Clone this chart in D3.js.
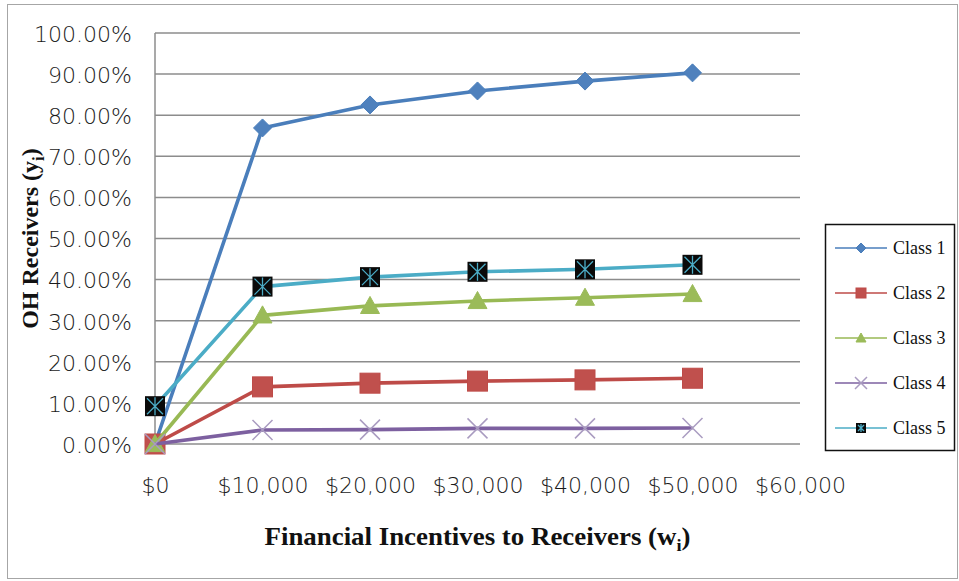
<!DOCTYPE html>
<html>
<head>
<meta charset="utf-8">
<script src="https://cdn.jsdelivr.net/npm/d3@7"></script>
<style>
  html, body { margin: 0; padding: 0; background: #fff; }
  svg { display: block; }
</style>
</head>
<body>
<svg id="chart" width="959" height="581"></svg>
<script>
// Incentive levels (x) and share of OH receivers per class (y, in %)
const incentives = [0, 10000, 20000, 30000, 40000, 50000];
const class1 = [0, 76.9, 82.5, 85.9, 88.3, 90.3];
const class2 = [0, 13.9, 14.8, 15.3, 15.6, 16.0];
const class3 = [0, 31.3, 33.6, 34.8, 35.6, 36.5];
const class4 = [0, 3.4, 3.5, 3.8, 3.8, 3.9];
const class5 = [9.2, 38.3, 40.6, 41.9, 42.5, 43.6];
const seriesNames = ["Class 1", "Class 2", "Class 3", "Class 4", "Class 5"];
const xTicks = [0, 10000, 20000, 30000, 40000, 50000, 60000];
const yTicks = [0, 10, 20, 30, 40, 50, 60, 70, 80, 90, 100];

const seriesValues = [class1, class2, class3, class4, class5];
const styles = [
  { line: "#4A7EBB", fill: "#4F81BD", shape: "diamond" },
  { line: "#BE4B48", fill: "#C0504D", shape: "square" },
  { line: "#98B954", fill: "#9BBB59", shape: "triangle" },
  { line: "#7D60A0", fill: "#A99BC0", shape: "cross" },
  { line: "#4BACC6", fill: "#0A0A0A", shape: "star" }
];

const svg = d3.select("#chart");
const plot = { left: 155, right: 800, top: 33, bottom: 444 };

const x = d3.scaleLinear().domain([0, 60000]).range([plot.left, plot.right]);
const y = d3.scaleLinear().domain([0, 100]).range([plot.bottom, plot.top]);

// outer chart frame
svg.append("rect")
  .attr("x", 7.5).attr("y", 4.5).attr("width", 950).attr("height", 574)
  .attr("fill", "#fff").attr("stroke", "#a6a6a6").attr("stroke-width", 1);

// horizontal gridlines
svg.append("g")
  .selectAll("line").data(yTicks).join("line")
  .attr("x1", plot.left).attr("x2", plot.right)
  .attr("y1", d => y(d)).attr("y2", d => y(d))
  .attr("stroke", "#8c8c8c").attr("stroke-width", 1.5);

// left edge of plot area
svg.append("line")
  .attr("x1", plot.left).attr("x2", plot.left)
  .attr("y1", plot.top).attr("y2", plot.bottom)
  .attr("stroke", "#8c8c8c").attr("stroke-width", 1.5);

const tickFont = "'DejaVu Sans', sans-serif";

// y axis labels
const yAxis = d3.axisLeft(y).tickValues(yTicks)
  .tickFormat(d => d3.format(".2f")(d) + "%").tickSize(0).tickPadding(23);
const gy = svg.append("g").attr("transform", `translate(${plot.left},0)`).call(yAxis);
gy.select(".domain").remove();
gy.selectAll("text")
  .attr("font-family", tickFont).attr("font-size", 22).attr("font-weight", 200)
  .attr("fill", "#1a1a1a").attr("dy", "0.38em");

// x axis labels
const xAxis = d3.axisBottom(x).tickValues(xTicks)
  .tickFormat(d => "$" + d3.format(",")(d)).tickSize(0).tickPadding(33);
const gx = svg.append("g").attr("transform", `translate(0,${plot.bottom})`).call(xAxis);
gx.select(".domain").remove();
gx.selectAll("text")
  .attr("font-family", tickFont).attr("font-size", 22).attr("font-weight", 200)
  .attr("fill", "#1a1a1a");

// axis titles
const titleFont = "'Liberation Serif', 'Times New Roman', serif";
const xt = svg.append("text")
  .attr("x", (plot.left + plot.right) / 2).attr("y", 545)
  .attr("text-anchor", "middle").attr("font-family", titleFont)
  .attr("font-size", 25).attr("font-weight", "bold").attr("fill", "#111")
  .attr("textLength", 426).attr("lengthAdjust", "spacingAndGlyphs");
xt.append("tspan").text("Financial Incentives to Receivers (w");
xt.append("tspan").text("i").attr("font-size", 17).attr("dy", 6);
xt.append("tspan").text(")").attr("dy", -6);

const yt = svg.append("text")
  .attr("transform", `translate(38,${(plot.top + plot.bottom) / 2}) rotate(-90)`)
  .attr("text-anchor", "middle").attr("font-family", titleFont)
  .attr("font-size", 24).attr("font-weight", "bold").attr("fill", "#111");
yt.append("tspan").text("OH Receivers (y");
yt.append("tspan").text("i").attr("font-size", 17).attr("dy", 6);
yt.append("tspan").text(")").attr("dy", -6);

// marker drawing
function drawMarker(g, shape, st, size) {
  const h = size / 2;
  if (shape === "diamond") {
    g.append("path").attr("d", `M0,${-h}L${h},0L0,${h}L${-h},0Z`).attr("fill", st.fill)
      .attr("stroke", st.line).attr("stroke-width", 1);
  } else if (shape === "square") {
    g.append("rect").attr("x", -h).attr("y", -h).attr("width", size).attr("height", size)
      .attr("fill", st.fill).attr("stroke", st.line).attr("stroke-width", 1);
  } else if (shape === "triangle") {
    g.append("path").attr("d", `M0,${-h}L${h},${h * 0.8}L${-h},${h * 0.8}Z`).attr("fill", st.fill)
      .attr("stroke", st.fill).attr("stroke-width", 1);
  } else if (shape === "cross") {
    g.append("path").attr("d", `M${-h},${-h}L${h},${h}M${h},${-h}L${-h},${h}`)
      .attr("stroke", st.fill).attr("stroke-width", 1.5).attr("fill", "none");
  } else if (shape === "star") {
    g.append("rect").attr("x", -h).attr("y", -h).attr("width", size).attr("height", size)
      .attr("fill", st.fill);
    g.append("path").attr("d", `M${-h + 2},${-h + 2}L${h - 2},${h - 2}M${h - 2},${-h + 2}L${-h + 2},${h - 2}M0,${-h + 1}L0,${h - 1}`)
      .attr("stroke", st.line).attr("stroke-width", 1.3).attr("fill", "none");
  }
}

const line = d3.line().x(d => x(d[0])).y(d => y(d[1]));
const marks = { diamond: 18, square: 20, triangle: 19, cross: 20, star: 20 };

seriesValues.forEach((vals, i) => {
  const st = styles[i];
  const pts = incentives.map((xv, j) => [xv, vals[j]]);
  const g = svg.append("g").attr("class", "series");
  g.append("path").datum(pts).attr("d", line)
    .attr("fill", "none").attr("stroke", st.line).attr("stroke-width", 3.6)
    .attr("stroke-linejoin", "round");
  pts.forEach(p => {
    const m = g.append("g").attr("transform", `translate(${x(p[0])},${y(p[1])})`);
    drawMarker(m, st.shape, st, marks[st.shape]);
  });
});

// legend
const legend = svg.append("g");
legend.append("rect")
  .attr("x", 825.5).attr("y", 224.5).attr("width", 129).attr("height", 226)
  .attr("fill", "#fff").attr("stroke", "#111").attr("stroke-width", 1.5);
const legendY = d3.scalePoint().domain(seriesNames).range([248, 428]);
seriesNames.forEach((name, i) => {
  const st = styles[i];
  const ly = legendY(name);
  legend.append("line").attr("x1", 835).attr("x2", 887).attr("y1", ly).attr("y2", ly)
    .attr("stroke", st.line).attr("stroke-width", 1.5);
  const m = legend.append("g").attr("transform", `translate(861,${ly})`);
  drawMarker(m, st.shape, st, st.shape === "cross" ? 12 : 10);
  legend.append("text").attr("x", 893).attr("y", ly).attr("dy", "0.35em")
    .attr("font-family", titleFont).attr("font-size", 18).attr("fill", "#111")
    .text(name);
});
</script>
</body>
</html>
